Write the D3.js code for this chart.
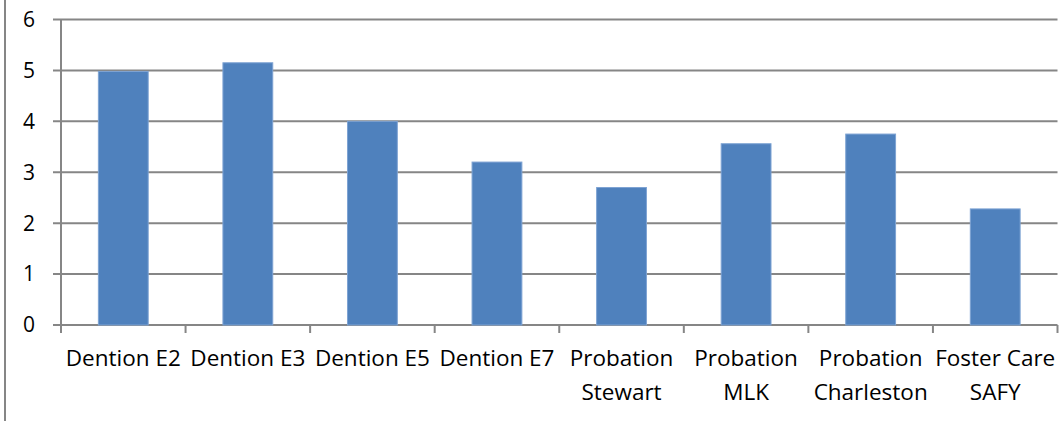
<!DOCTYPE html>
<html>
<head>
<meta charset="utf-8">
<script src="https://cdn.jsdelivr.net/npm/d3@7"></script>
<style>
  html, body { margin: 0; padding: 0; background: #fff; }
  svg { display: block; }
</style>
</head>
<body>
<svg id="chart" width="1060" height="421"></svg>
<script>
const categories = ["Dention E2", "Dention E3", "Dention E5", "Dention E7",
  "Probation Stewart", "Probation MLK", "Probation Charleston", "Foster Care SAFY"];
const tickLabelLines = [["Dention E2"], ["Dention E3"], ["Dention E5"], ["Dention E7"],
  ["Probation", "Stewart"], ["Probation", "MLK"], ["Probation", "Charleston"], ["Foster Care", "SAFY"]];
const values = [4.98, 5.15, 4.0, 3.2, 2.7, 3.56, 3.75, 2.28];
const yTicks = [0, 1, 2, 3, 4, 5, 6];

const svg = d3.select("#chart");
const plotLeft = 61, plotRight = 1057.5, plotTop = 19.5, plotBottom = 325;
const gridColor = "#868686";
const font = "'Open Sans', sans-serif";

// outer frame line on the left
svg.append("line").attr("x1", 5).attr("x2", 5).attr("y1", 0).attr("y2", 421)
  .attr("stroke", gridColor).attr("stroke-width", 2);

const x = d3.scaleBand().domain(categories).range([plotLeft, plotRight])
  .paddingInner(0.6).paddingOuter(0.3);
const y = d3.scaleLinear().domain([0, 6]).range([plotBottom, plotTop]);

// gridlines + y ticks
svg.append("g").selectAll("line").data(yTicks).join("line")
  .attr("x1", plotLeft - 8).attr("x2", plotRight)
  .attr("y1", d => y(d)).attr("y2", d => y(d))
  .attr("stroke", gridColor).attr("stroke-width", 2);

// y axis line
svg.append("line").attr("x1", plotLeft).attr("x2", plotLeft).attr("y1", y(6)).attr("y2", plotBottom + 8)
  .attr("stroke", gridColor).attr("stroke-width", 2);

// x tick marks at category boundaries
const step = x.step();
const boundaries = d3.range(1, categories.length + 1).map(i => plotLeft + i * step);
svg.append("g").selectAll("line").data(boundaries).join("line")
  .attr("x1", d => d).attr("x2", d => d).attr("y1", plotBottom).attr("y2", plotBottom + 8)
  .attr("stroke", gridColor).attr("stroke-width", 2);

// y labels
svg.append("g").selectAll("text").data(yTicks).join("text")
  .attr("x", 35).attr("y", d => y(d)).attr("dy", "0.35em")
  .attr("text-anchor", "end").attr("font-family", font).attr("font-size", 21)
  .attr("fill", "#000").text(d => d);

// bars
svg.append("g").selectAll("rect").data(values).join("rect")
  .attr("x", (d, i) => x(categories[i]))
  .attr("width", x.bandwidth())
  .attr("y", d => y(d))
  .attr("height", d => plotBottom - y(d))
  .attr("fill", "#4F81BD")
  .attr("stroke", "#7ea3d3").attr("stroke-width", 1);

// x labels
const lab = svg.append("g").selectAll("text").data(categories).join("text")
  .attr("text-anchor", "middle").attr("font-family", font).attr("font-size", 22.5)
  .attr("fill", "#000");
lab.each(function(c, i) {
  const cx = x(c) + x.bandwidth() / 2;
  d3.select(this).selectAll("tspan").data(tickLabelLines[i]).join("tspan")
    .attr("x", cx).attr("y", (d, j) => 366 + j * 34).text(d => d);
});
</script>
</body>
</html>
